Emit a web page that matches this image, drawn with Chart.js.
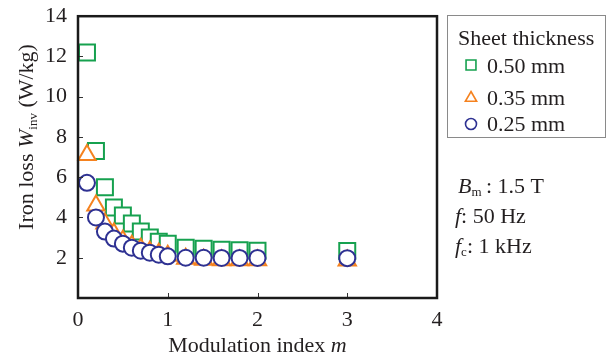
<!DOCTYPE html>
<html>
<head>
<meta charset="utf-8">
<script src="https://cdn.jsdelivr.net/npm/chart.js@4.4.1/dist/chart.umd.min.js"></script>
<style>
  body { margin: 0; background: #fff; }
  canvas { display: block; }
</style>
</head>
<body>
<canvas id="lossChart" width="609" height="358"></canvas>
<script>
// modulation index m
const modIndex = [0.1, 0.2, 0.3, 0.4, 0.5, 0.6, 0.7, 0.8, 0.9, 1.0, 1.2, 1.4, 1.6, 1.8, 2.0, 3.0];
// iron loss W_inv (W/kg) per sheet thickness
const loss050 = [12.2, 7.3, 5.5, 4.5, 4.1, 3.7, 3.3, 3.0, 2.8, 2.7, 2.5, 2.45, 2.4, 2.37, 2.35, 2.33];
const loss035 = [7.1, 4.6, 3.7, 3.2, 2.85, 2.6, 2.45, 2.3, 2.2, 2.1, 1.95, 1.9, 1.88, 1.88, 1.88, 1.86];
const loss025 = [5.72, 4.0, 3.3, 2.95, 2.7, 2.5, 2.35, 2.25, 2.15, 2.07, 2.0, 2.0, 1.99, 1.99, 1.99, 1.98];
const seriesLabels = ['0.50 mm', '0.35 mm', '0.25 mm'];
const xTicks = [0, 1, 2, 3, 4];
const yTicks = [0, 2, 4, 6, 8, 10, 12, 14];

const SERIF = "'Liberation Serif', 'Times New Roman', serif";
const TXT = '#231f20';
const GREEN = '#16a14f';
const ORANGE = '#f5821f';
const BLUE = '#2e3192';

function toPoints(ys) {
    return modIndex.map((m, i) => ({ x: m, y: ys[i] }));
}

// draws a run of text pieces, each with its own style and baseline shift
function drawRuns(ctx, runs, x, y) {
    runs.forEach(r => {
        ctx.font = (r.italic ? 'italic ' : '') + (r.size || 22) + 'px ' + SERIF;
        ctx.fillText(r.t, x, y + (r.dy || 0));
        x += ctx.measureText(r.t).width;
    });
    return x;
}

function runsWidth(ctx, runs) {
    let w = 0;
    runs.forEach(r => {
        ctx.font = (r.italic ? 'italic ' : '') + (r.size || 22) + 'px ' + SERIF;
        w += ctx.measureText(r.t).width;
    });
    return w;
}

// frame, inward ticks, axis titles, legend box and condition notes
const decorations = {
    id: 'decorations',
    afterDraw(chart) {
        const ctx = chart.ctx;
        const a = chart.chartArea;
        const xs = chart.scales.x;
        const ys = chart.scales.y;
        ctx.save();

        // inward ticks
        ctx.strokeStyle = '#333';
        ctx.lineWidth = 1;
        ctx.beginPath();
        xTicks.slice(1, -1).forEach(v => {
            const px = Math.round(xs.getPixelForValue(v)) + 0.5;
            ctx.moveTo(px, a.bottom);
            ctx.lineTo(px, a.bottom - 5);
        });
        yTicks.slice(1, -1).forEach(v => {
            const py = Math.round(ys.getPixelForValue(v)) + 0.5;
            ctx.moveTo(a.left, py);
            ctx.lineTo(a.left + 5, py);
        });
        ctx.stroke();

        // plot frame
        ctx.strokeStyle = '#1a1a1a';
        ctx.lineWidth = 2.5;
        ctx.strokeRect(a.left, a.top, a.right - a.left, a.bottom - a.top);

        ctx.fillStyle = TXT;
        ctx.textBaseline = 'alphabetic';
        ctx.textAlign = 'left';

        // x axis title
        const xRuns = [{ t: 'Modulation index ' }, { t: 'm', italic: true }];
        const xw = runsWidth(ctx, xRuns);
        drawRuns(ctx, xRuns, (a.left + a.right) / 2 - xw / 2, 352);

        // y axis title, rotated
        const yRuns = [
            { t: 'Iron loss ' },
            { t: 'W', italic: true },
            { t: 'inv', size: 13, dy: 4 },
            { t: ' (W/kg)' }
        ];
        const yw = runsWidth(ctx, yRuns);
        ctx.save();
        ctx.translate(33, 137);
        ctx.rotate(-Math.PI / 2);
        drawRuns(ctx, yRuns, -yw / 2, 0);
        ctx.restore();

        // legend
        ctx.strokeStyle = '#8a8a8a';
        ctx.lineWidth = 1;
        ctx.strokeRect(447.5, 15.5, 158, 122);
        ctx.font = '22px ' + SERIF;
        ctx.fillText('Sheet thickness', 458, 45);
        const rows = [
            { my: 65, ty: 73, r: 7 },
            { my: 98, ty: 105, r: 6.5 },
            { my: 124, ty: 131, r: 5.5 }
        ];
        chart.data.datasets.forEach((ds, i) => {
            const row = rows[i];
            ctx.save();
            ctx.strokeStyle = ds.borderColor;
            ctx.fillStyle = '#fff';
            ctx.lineWidth = 1.6;
            Chart.helpers.drawPoint(ctx, { pointStyle: ds.pointStyle, radius: row.r, rotation: 0, borderWidth: 1.6 }, 471, row.my);
            ctx.restore();
            ctx.fillStyle = TXT;
            ctx.font = '22px ' + SERIF;
            ctx.fillText(seriesLabels[i], 487, row.ty);
        });

        // measurement conditions
        drawRuns(ctx, [{ t: 'B', italic: true }, { t: 'm', size: 13, dy: 3 }, { t: '\u2009: 1.5 T' }], 458, 193);
        drawRuns(ctx, [{ t: 'f', italic: true }, { t: ': 50 Hz' }], 455, 223);
        drawRuns(ctx, [{ t: 'f', italic: true }, { t: 'c', size: 13, dy: 3 }, { t: ': 1 kHz' }], 455, 253);

        ctx.restore();
    }
};

const tickFont = { family: SERIF, size: 22 };

const ctx = document.getElementById('lossChart').getContext('2d');
const lossChart = new Chart(ctx, {
    type: 'scatter',
    data: {
        datasets: [
            {
                label: seriesLabels[0],
                data: toPoints(loss050),
                pointStyle: 'rect',
                pointRadius: 11.3,
                borderColor: GREEN,
                backgroundColor: '#fff',
                pointBorderWidth: 2,
                order: 2
            },
            {
                label: seriesLabels[1],
                data: toPoints(loss035),
                pointStyle: 'triangle',
                pointRadius: 10,
                borderColor: ORANGE,
                backgroundColor: '#fff',
                pointBorderWidth: 2,
                order: 1
            },
            {
                label: seriesLabels[2],
                data: toPoints(loss025),
                pointStyle: 'circle',
                pointRadius: 8,
                borderColor: BLUE,
                backgroundColor: '#fff',
                pointBorderWidth: 2,
                order: 0
            }
        ]
    },
    options: {
        responsive: false,
        animation: false,
        clip: false,
        layout: { padding: { top: 7, right: 172, left: 0, bottom: 0 } },
        plugins: {
            legend: { display: false },
            tooltip: { enabled: false }
        },
        scales: {
            x: {
                type: 'linear',
                min: xTicks[0],
                max: xTicks[xTicks.length - 1],
                ticks: { stepSize: 1, font: tickFont, color: TXT, padding: 1, maxRotation: 0 },
                grid: { display: false },
                border: { display: false },
                afterFit: s => { s.height = 60; }
            },
            y: {
                min: yTicks[0],
                max: yTicks[yTicks.length - 1],
                ticks: {
                    stepSize: 2,
                    font: tickFont,
                    color: TXT,
                    padding: 3,
                    callback: v => (v === 0 ? '' : v)
                },
                grid: { display: false },
                border: { display: false },
                afterFit: s => { s.width = 78; }
            }
        }
    },
    plugins: [decorations]
});
</script>
</body>
</html>
